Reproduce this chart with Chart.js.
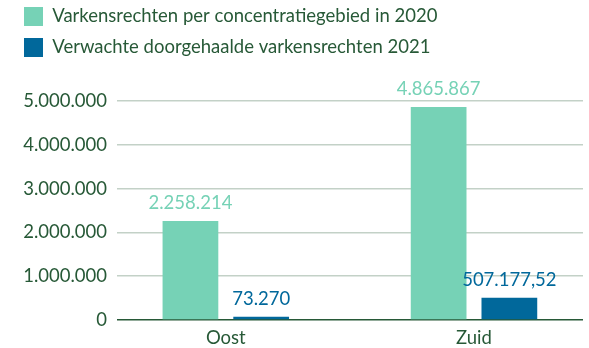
<!DOCTYPE html>
<html>
<head>
<meta charset="utf-8">
<script src="https://cdn.jsdelivr.net/npm/chart.js@4"></script>
<style>
  html, body { margin: 0; padding: 0; background: #ffffff; overflow: hidden; }
  #wrap { width: 589px; height: 348px; position: relative; }
</style>
</head>
<body>
<div id="wrap"><canvas id="c" width="589" height="348"></canvas></div>
<script>
// Data
const categories = ['Oost', 'Zuid'];
const seriesNames = [
  'Varkensrechten per concentratiegebied in 2020',
  'Verwachte doorgehaalde varkensrechten 2021'
];
const rights2020 = [2258214, 4865867];
const expected2021 = [73270, 507177.52];
const yTickValues = [0, 1000000, 2000000, 3000000, 4000000, 5000000];

// Styling
const MINT = '#76D2B6';
const BLUE = '#01689B';
const TEXT = '#275937';
const GRID = '#c3d1c7';
const FONT_FAMILY = 'Lato';
const FONT = { family: FONT_FAMILY, size: 18.5 };

// Dutch number formatting: 1.234.567,89
function fmtNL(v) {
  const intPart = Math.floor(v);
  const frac = Math.round((v - intPart) * 100);
  let s = String(intPart).replace(/\B(?=(\d{3})+(?!\d))/g, '.');
  if (frac) s += ',' + String(frac).padStart(2, '0');
  return s;
}

// Bars sit on a linear index axis: category i is placed at x = i
const toPoints = arr => arr.map((v, i) => ({ x: i, y: v }));

// Reserve space under the legend so the plot starts lower
const legendSpacing = {
  id: 'legendSpacing',
  beforeLayout(chart) {
    const lg = chart.legend;
    if (lg && !lg._spaced) {
      const fit = lg.fit;
      lg.fit = function () { fit.call(this); this.height = 106; };
      lg._spaced = true;
    }
  }
};

// Value labels above each bar, in the bar's colour
const valueLabels = {
  id: 'valueLabels',
  afterDatasetsDraw(chart) {
    const { ctx } = chart;
    ctx.save();
    ctx.font = `${FONT.size}px ${FONT_FAMILY}`;
    ctx.textAlign = 'center';
    ctx.textBaseline = 'alphabetic';
    chart.data.datasets.forEach((ds, di) => {
      chart.getDatasetMeta(di).data.forEach((bar, i) => {
        ctx.fillStyle = ds.backgroundColor;
        ctx.fillText(fmtNL(ds.data[i].y), bar.x, bar.y - 12);
      });
    });
    ctx.restore();
  }
};

new Chart(document.getElementById('c'), {
  type: 'bar',
  data: {
    datasets: [
      {
        label: seriesNames[0],
        data: toPoints(rights2020),
        backgroundColor: MINT,
        categoryPercentage: 0.57,
        barPercentage: 0.788
      },
      {
        label: seriesNames[1],
        data: toPoints(expected2021),
        backgroundColor: BLUE,
        categoryPercentage: 0.57,
        barPercentage: 0.788
      }
    ]
  },
  options: {
    responsive: false,
    animation: false,
    layout: { padding: { top: -5, left: 12, right: 6, bottom: 0 } },
    plugins: {
      legend: {
        align: 'start',
        labels: {
          boxWidth: 19,
          boxHeight: 19,
          padding: 12,
          color: TEXT,
          font: FONT
        }
      },
      tooltip: { enabled: false }
    },
    scales: {
      x: {
        type: 'linear',
        offset: false,
        min: -0.4384,
        max: 1.4392,
        grid: { display: false },
        border: { display: false },
        ticks: {
          stepSize: 1,
          includeBounds: false,
          autoSkip: false,
          maxRotation: 0,
          padding: -1,
          color: TEXT,
          font: FONT,
          callback: v => (Number.isInteger(v) && categories[v]) ? categories[v] : ''
        },
        afterFit: s => { s.height = 28; }
      },
      y: {
        min: 0,
        max: 5000000,
        afterBuildTicks: s => { s.ticks = yTickValues.map(v => ({ value: v })); },
        grid: {
          color: c => (c.tick && c.tick.value === 0) ? TEXT : GRID,
          lineWidth: 1.5,
          drawTicks: false
        },
        border: { display: false },
        ticks: {
          padding: 10,
          color: TEXT,
          font: FONT,
          callback: v => fmtNL(v)
        },
        afterFit: s => { s.width = 105; }
      }
    }
  },
  plugins: [legendSpacing, valueLabels]
});
</script>
</body>
</html>
